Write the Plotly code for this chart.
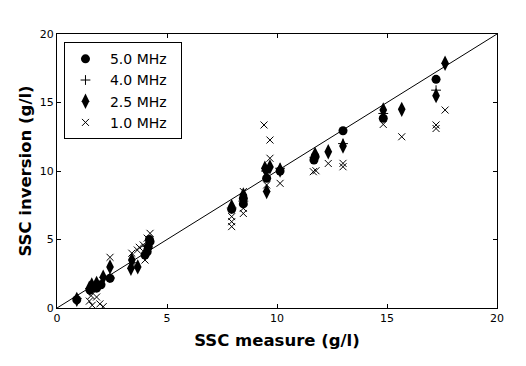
import plotly.graph_objects as go

# 5.0 MHz (circles)
x5 = [0.9, 1.5, 1.65, 1.8, 2.0, 2.41, 4.0, 4.1, 4.15, 4.23, 4.2, 7.94, 8.47, 8.47, 9.53, 9.53, 10.14, 11.68, 11.73, 13.0, 14.83, 17.23]
y5 = [0.6, 1.3, 1.5, 1.45, 1.7, 2.17, 3.87, 4.1, 4.47, 4.84, 5.0, 7.2, 7.6, 8.0, 9.47, 10.1, 10.0, 10.8, 11.05, 12.94, 13.85, 16.69]
# 4.0 MHz (plus)
x4 = [0.9, 1.5, 1.8, 2.4, 3.5, 4.1, 7.94, 8.47, 9.5, 10.14, 11.7, 13.0, 14.83, 17.23]
y4 = [0.7, 1.4, 1.7, 2.2, 3.3, 4.5, 7.3, 7.8, 10.0, 10.2, 11.0, 12.0, 14.2, 15.9]
# 2.5 MHz (thin diamonds)
x25 = [0.9, 1.47, 1.58, 1.8, 2.1, 2.41, 3.36, 3.67, 3.4, 4.1, 7.94, 8.47, 9.45, 9.68, 9.53, 10.14, 11.73, 12.33, 13.0, 14.83, 15.67, 17.23, 17.64]
y25 = [0.63, 1.44, 1.68, 1.8, 2.24, 3.0, 2.9, 3.0, 3.5, 4.3, 7.4, 8.25, 10.2, 10.3, 8.5, 10.07, 11.2, 11.4, 11.82, 14.45, 14.5, 15.5, 17.86]
# 1.0 MHz (x)
x1 = [1.47, 1.6, 1.8, 1.95, 2.1, 1.55, 2.41, 3.4, 3.65, 3.74, 3.92, 4.0, 4.23, 4.1, 7.94, 7.94, 7.94, 8.47, 8.47, 8.47, 9.41, 9.68, 9.68, 9.53, 10.14, 11.65, 11.77, 12.33, 13.0, 13.0, 14.83, 15.67, 17.23, 17.23, 17.64]
y1 = [0.5, 0.2, 0.8, 0.3, 0.1, 0.9, 3.7, 4.0, 4.23, 4.43, 4.6, 3.5, 5.45, 5.1, 6.67, 6.3, 5.94, 8.5, 7.28, 6.9, 13.36, 12.26, 10.93, 8.98, 9.1, 9.95, 10.02, 10.55, 10.56, 10.31, 13.4, 12.5, 13.36, 13.1, 14.45]

series_names = ["5.0 MHz", "4.0 MHz", "2.5 MHz", "1.0 MHz"]
line_x = [0, 20]
line_y = [0, 20]
ticks = [0, 5, 10, 15, 20]

pad = "\u00a0"
fig = go.Figure()
fig.add_trace(go.Scatter(x=line_x, y=line_y, mode="lines", line=dict(color="black", width=1),
                         showlegend=False, hoverinfo="skip"))
fig.add_trace(go.Scatter(x=x5, y=y5, mode="markers", name=pad + series_names[0] + pad * 2,
                         marker=dict(symbol="circle", size=9, color="black")))
fig.add_trace(go.Scatter(x=x4, y=y4, mode="markers", name=pad + series_names[1] + pad * 2,
                         marker=dict(symbol="cross-thin", size=7, color="black",
                                     line=dict(color="black", width=1))))
fig.add_trace(go.Scatter(x=x25, y=y25, mode="markers", name=pad + series_names[2] + pad * 2,
                         marker=dict(symbol="diamond-tall", size=11, color="black")))
fig.add_trace(go.Scatter(x=x1, y=y1, mode="markers", name=pad + series_names[3] + pad * 2,
                         marker=dict(symbol="x-thin", size=7, color="black",
                                     line=dict(color="black", width=1))))

axis_common = dict(showline=True, linecolor="black", linewidth=1, mirror="ticks",
                   ticks="inside", ticklen=4, tickcolor="black", showgrid=False,
                   zeroline=False, tickvals=ticks, ticktext=[str(t) for t in ticks],
                   automargin=False,
                   tickfont=dict(family="DejaVu Sans", size=11, color="black"))

# The page body keeps a default 8px margin, so the figure is 8px smaller
fig.update_layout(
    width=518, height=358,
    margin=dict(l=49, r=29, t=26, b=58),
    plot_bgcolor="white", paper_bgcolor="white",
    xaxis=dict(range=[0, 20], title=dict(text="<b>SSC measure (g/l)</b>", standoff=10,
               font=dict(family="DejaVu Sans", size=16.5, color="black")), **axis_common),
    yaxis=dict(range=[0, 20], title=dict(text="<b>SSC inversion (g/l)</b>", standoff=4,
               font=dict(family="DejaVu Sans", size=16.5, color="black")), **axis_common),
    legend=dict(x=0.017, y=0.97, xanchor="left", yanchor="top",
                bordercolor="black", borderwidth=1, bgcolor="white",
                font=dict(family="DejaVu Sans", size=14, color="black"),
                tracegroupgap=0),
)

fig.write_html("out.html")
